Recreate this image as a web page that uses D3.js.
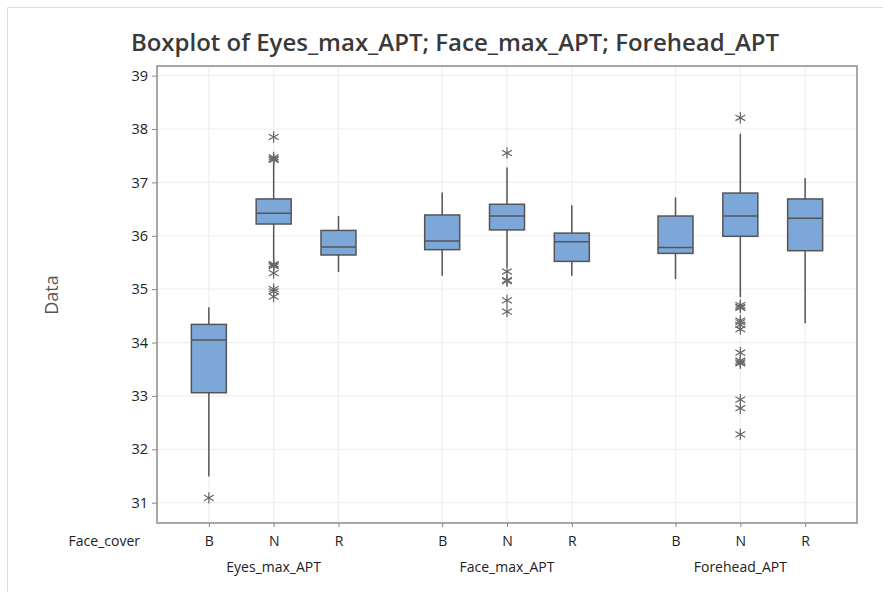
<!DOCTYPE html>
<html>
<head>
<meta charset="utf-8">
<script src="https://cdn.jsdelivr.net/npm/d3@7"></script>
<style>
  body { margin: 0; background: #fff; }
  svg text { font-family: "Open Sans", "Noto Sans", sans-serif; }
</style>
</head>
<body>
<div id="chart"></div>
<script>
// variables and face cover categories
var groups = ["Eyes_max_APT", "Face_max_APT", "Forehead_APT"];
var covers = ["B", "N", "R"];
var yTicks = [31, 32, 33, 34, 35, 36, 37, 38, 39];

// box statistics, one entry per group x cover (B, N, R for each group)
var whiskerLow  = [31.49, 35.50, 35.32,  35.25, 35.42, 35.25,  35.19, 34.85, 34.36];
var q1          = [33.06, 36.22, 35.64,  35.74, 36.11, 35.52,  35.67, 35.99, 35.72];
var median      = [34.05, 36.42, 35.79,  35.90, 36.37, 35.89,  35.78, 36.37, 36.33];
var q3          = [34.34, 36.69, 36.10,  36.39, 36.59, 36.05,  36.37, 36.80, 36.69];
var whiskerHigh = [34.66, 37.38, 36.37,  36.81, 37.28, 36.57,  36.72, 37.91, 37.08];
var outliers = [
  [31.09],
  [37.85, 37.47, 37.44, 37.42, 35.47, 35.45, 35.43, 35.30, 35.00, 34.96, 34.86],
  [],
  [],
  [37.55, 35.33, 35.17, 35.15, 34.79, 34.58],
  [],
  [],
  [38.21, 34.70, 34.67, 34.65, 34.41, 34.38, 34.33, 34.25, 33.81, 33.66, 33.63, 33.61, 32.93, 32.77, 32.28],
  []
];

var W = 883, H = 592;
var plot = {left: 157, right: 857, top: 66, bottom: 523};

var svg = d3.select("#chart").append("svg")
  .attr("width", W).attr("height", H);

// faint outer frame of the graph window
svg.append("path")
  .attr("d", "M7.5," + H + "V7.5H" + W)
  .attr("fill", "none").attr("stroke", "#dcdcdc");

var y = d3.scaleLinear().domain([30.62, 39.18]).range([plot.bottom, plot.top]);
var xg = d3.scaleBand().domain(groups).range([plot.left, plot.right]).padding(0);
var xc = d3.scalePoint().domain(covers).range([0, xg.bandwidth()]).padding(0.8);

var boxes = [];
groups.forEach(function(g, gi) {
  covers.forEach(function(c, ci) {
    var i = gi * 3 + ci;
    boxes.push({group: g, cover: c, lo: whiskerLow[i], q1: q1[i], med: median[i],
                q3: q3[i], hi: whiskerHigh[i], out: outliers[i],
                x: xg(g) + xc(c)});
  });
});

// gridlines
svg.append("g").selectAll("line").data(yTicks).enter().append("line")
  .attr("x1", plot.left).attr("x2", plot.right)
  .attr("y1", function(d) { return y(d); }).attr("y2", function(d) { return y(d); })
  .attr("stroke", "#efefef").attr("stroke-width", 1.2);
svg.append("g").selectAll("line").data(boxes).enter().append("line")
  .attr("x1", function(d) { return d.x; }).attr("x2", function(d) { return d.x; })
  .attr("y1", plot.top).attr("y2", plot.bottom)
  .attr("stroke", "#efefef").attr("stroke-width", 1.2);

// y axis
var yAxis = svg.append("g")
  .attr("transform", "translate(" + plot.left + ",0)")
  .call(d3.axisLeft(y).tickValues(yTicks).tickSize(5).tickPadding(4));
yAxis.select(".domain").remove();
yAxis.selectAll("line").attr("stroke", "#888");
yAxis.selectAll("text").attr("font-size", 14.5).attr("fill", "#222");

// x axis, one per group
groups.forEach(function(g) {
  var ax = svg.append("g")
    .attr("transform", "translate(" + xg(g) + "," + plot.bottom + ")")
    .call(d3.axisBottom(xc).tickSize(4).tickPadding(9));
  ax.select(".domain").remove();
  ax.selectAll("line").attr("stroke", "#888");
  ax.selectAll("text").attr("font-size", 14).attr("fill", "#222");
  svg.append("text")
    .attr("x", xg(g) + xg.bandwidth() / 2).attr("y", 572)
    .attr("text-anchor", "middle").attr("font-size", 14).attr("fill", "#222")
    .text(g);
});

svg.append("text")
  .attr("x", 140).attr("y", 546)
  .attr("text-anchor", "end").attr("font-size", 14).attr("fill", "#222")
  .text("Face_cover");

// plot frame
svg.append("rect")
  .attr("x", plot.left).attr("y", plot.top)
  .attr("width", plot.right - plot.left).attr("height", plot.bottom - plot.top)
  .attr("fill", "none").attr("stroke", "#8c8c8c").attr("stroke-width", 1.5);

// boxplots
var bw = 35;
var bx = svg.append("g").selectAll("g").data(boxes).enter().append("g");

bx.append("line")
  .attr("x1", function(d) { return d.x; }).attr("x2", function(d) { return d.x; })
  .attr("y1", function(d) { return y(d.hi); }).attr("y2", function(d) { return y(d.q3); })
  .attr("stroke", "#555").attr("stroke-width", 1.5);
bx.append("line")
  .attr("x1", function(d) { return d.x; }).attr("x2", function(d) { return d.x; })
  .attr("y1", function(d) { return y(d.q1); }).attr("y2", function(d) { return y(d.lo); })
  .attr("stroke", "#555").attr("stroke-width", 1.5);
bx.append("rect")
  .attr("x", function(d) { return d.x - bw / 2; })
  .attr("y", function(d) { return y(d.q3); })
  .attr("width", bw)
  .attr("height", function(d) { return y(d.q1) - y(d.q3); })
  .attr("fill", "#7da7d9").attr("stroke", "#555").attr("stroke-width", 1.5);
bx.append("line")
  .attr("x1", function(d) { return d.x - bw / 2; }).attr("x2", function(d) { return d.x + bw / 2; })
  .attr("y1", function(d) { return y(d.med); }).attr("y2", function(d) { return y(d.med); })
  .attr("stroke", "#555").attr("stroke-width", 1.5);

// outliers as asterisks
var star = d3.symbol().type(d3.symbolAsterisk).size(90);
bx.each(function(d) {
  d3.select(this).selectAll("path.out").data(d.out).enter().append("path")
    .attr("class", "out")
    .attr("transform", function(v) { return "translate(" + d.x + "," + y(v) + ")"; })
    .attr("d", star)
    .attr("fill", "none").attr("stroke", "#666").attr("stroke-width", 1.2);
});

// titles
svg.append("text")
  .attr("x", 455).attr("y", 51)
  .attr("text-anchor", "middle").attr("font-size", 24).attr("font-weight", 600)
  .attr("fill", "#3a3a3a")
  .text("Boxplot of Eyes_max_APT; Face_max_APT; Forehead_APT");

svg.append("text")
  .attr("transform", "translate(58,295) rotate(-90)")
  .attr("text-anchor", "middle").attr("font-size", 18).attr("fill", "#555")
  .text("Data");
</script>
</body>
</html>
